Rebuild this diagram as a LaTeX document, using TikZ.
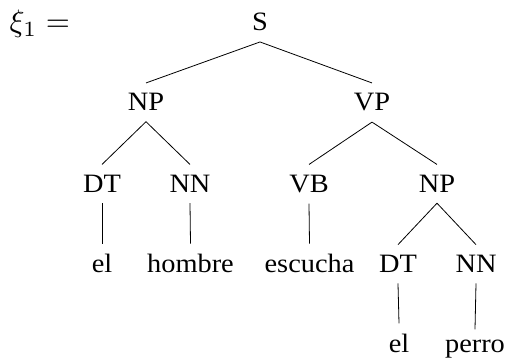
\documentclass[tikz,border=0pt]{standalone}
\usepackage{fontspec}
\setmainfont[FakeStretch=1.07]{Liberation Serif}
\begin{document}
\begin{tikzpicture}[x=1pt,y=-1pt,
  lbl/.style={anchor=base,inner xsep=0pt,inner ysep=10.5pt,font=\fontsize{26.5}{30}\selectfont},
  edge/.style={line width=0.8pt}]
\useasboundingbox (0,0) rectangle (506,358);
\node[anchor=base west,inner sep=0pt,font=\normalsize] (xi) at (9.5,31.5) {\scalebox{3.1}{$\xi_1 =$}};
\node[lbl] (S) at (260,31) {S};
\node[lbl] (NPa) at (146,111) {NP};
\node[lbl] (VP) at (372,111) {VP};
\node[lbl] (DTa) at (102,192.5) {DT};
\node[lbl] (NNa) at (190,192.5) {NN};
\node[lbl] (VB) at (309,192.5) {VB};
\node[lbl] (NPb) at (437,192.5) {NP};
\node[lbl] (ela) at (102,272.7) {el};
\node[lbl] (hombre) at (190.5,272.7) {hombre};
\node[lbl] (escucha) at (309.5,272.7) {escucha};
\node[lbl] (DTb) at (398,272.7) {DT};
\node[lbl] (NNb) at (476,272.7) {NN};
\node[lbl] (elb) at (399,352.5) {el};
\node[lbl] (perro) at (475,352.5) {perro};
\draw[edge] (S.south) -- (NPa.north);
\draw[edge] (S.south) -- (VP.north);
\draw[edge] (NPa.south) -- (DTa.north);
\draw[edge] (NPa.south) -- (NNa.north);
\draw[edge] (VP.south) -- (VB.north);
\draw[edge] (VP.south) -- (NPb.north);
\draw[edge] (DTa.south) -- (ela.north);
\draw[edge] (NNa.south) -- (hombre.north);
\draw[edge] (VB.south) -- (escucha.north);
\draw[edge] (NPb.south) -- (DTb.north);
\draw[edge] (NPb.south) -- (NNb.north);
\draw[edge] (DTb.south) -- (elb.north);
\draw[edge] (NNb.south) -- (perro.north);
\end{tikzpicture}
\end{document}
